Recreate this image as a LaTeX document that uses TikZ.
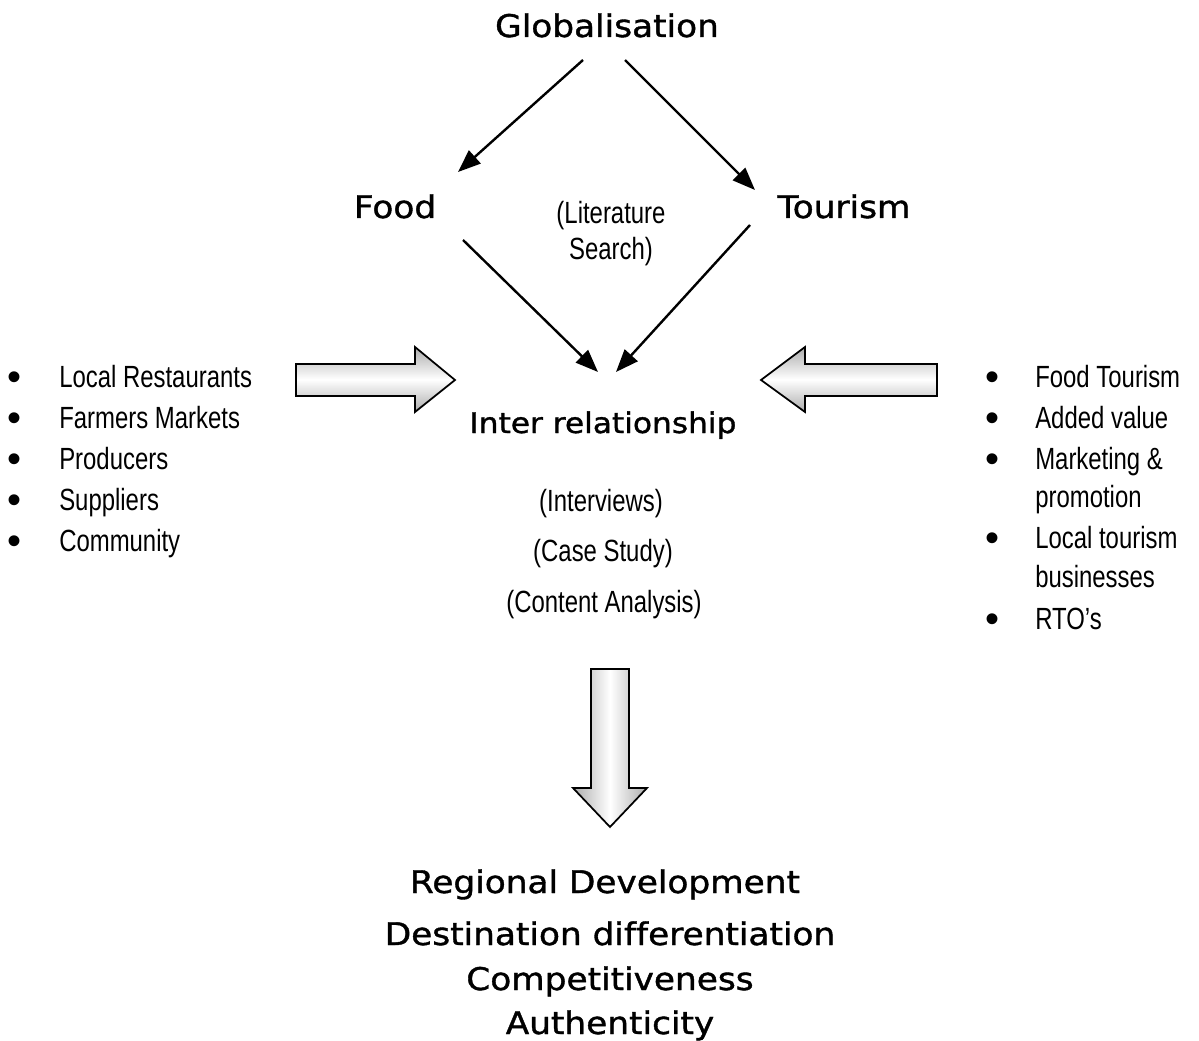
\documentclass[tikz,border=0pt]{standalone}
\usepackage{fontspec}
\usetikzlibrary{arrows.meta}
\newfontfamily\headfont[FakeStretch=1.1, FakeBold=1.2, Ligatures=NoCommon]{DejaVu Sans}
\newfontfamily\bodyfont[FakeStretch=0.78]{Liberation Sans}
\newfontfamily\bulletfont{Liberation Sans}

\tikzset{
  head/.style={inner sep=0, anchor=base, font=\headfont\fontsize{23.4pt}{28pt}\selectfont},
  subhead/.style={head, font=\headfont\fontsize{21.3pt}{26pt}\selectfont},
  body/.style={inner sep=0, anchor=base, font=\bodyfont\fontsize{23pt}{27pt}\selectfont},
  item/.style={body, anchor=base west},
  bul/.style={inner sep=0, anchor=base, font=\bulletfont\fontsize{30pt}{30pt}\selectfont},
  conn/.style={line width=1.8pt, -{Triangle[length=17pt, width=13pt]}},
  blockh/.style={draw=black, line width=1.3pt, line join=miter, top color=gray!65, bottom color=gray!65, middle color=white},
  blockv/.style={draw=black, line width=1.3pt, line join=miter, left color=gray!65, right color=gray!65, middle color=white}
}

\begin{document}
\begin{tikzpicture}[x=0.75pt, y=-0.75pt]
\useasboundingbox (0, 0) rectangle (1199, 1041);

\node[head] (glob) at (607, 37) {Globalisation};
\node[head] (food) at (395, 218) {Food};
\node[head] (tour) at (844, 218) {Tourism};
\node[body, anchor=center, align=center] (lit) at (611, 234) {(Literature\\Search)};
\node[subhead] (inter) at (603, 433) {Inter relationship};

\node[body] (intv) at (601, 511) {(Interviews)};
\node[body] (case) at (603, 561) {(Case Study)};
\node[body] (cont) at (604, 612) {(Content Analysis)};

\node[head] (regdev) at (605, 893) {Regional Development};
\node[head] (destdiff) at (610, 945) {Destination differentiation};
\node[head] (compet) at (610, 990) {Competitiveness};
\node[head] (authen) at (610, 1034) {Authenticity};

\node[bul] (lb1) at (15, 390) {•};
\node[bul] (lb2) at (15, 431) {•};
\node[bul] (lb3) at (15, 472) {•};
\node[bul] (lb4) at (15, 513) {•};
\node[bul] (lb5) at (15, 554) {•};
\node[item] (li1) at (59, 387) {Local Restaurants};
\node[item] (li2) at (59, 428) {Farmers Markets};
\node[item] (li3) at (59, 469) {Producers};
\node[item] (li4) at (59, 510) {Suppliers};
\node[item] (li5) at (59, 551) {Community};

\node[bul] (rb1) at (992, 390) {•};
\node[bul] (rb2) at (992, 431) {•};
\node[bul] (rb3) at (992, 472) {•};
\node[bul] (rb4) at (992, 551) {•};
\node[bul] (rb5) at (992, 632) {•};
\node[item] (ri1) at (1035, 387) {Food Tourism};
\node[item] (ri2) at (1035, 428) {Added value};
\node[item] (ri3) at (1035, 469) {Marketing \&};
\node[item] (ri3b) at (1035, 507) {promotion};
\node[item] (ri4) at (1035, 548) {Local tourism};
\node[item] (ri4b) at (1035, 587) {businesses};
\node[item] (ri5) at (1035, 629) {RTO’s};

\draw[conn] ([shift={(-24,23)}]glob.base) -- ([shift={(63,-46)}]food.base);
\draw[conn] ([shift={(18,23)}]glob.base) -- ([shift={(-89,-28)}]tour.base);
\draw[conn] ([shift={(68,22)}]food.base) -- ([shift={(-5,-61)}]inter.base);
\draw[conn] ([shift={(-94,7)}]tour.base) -- ([shift={(13,-61)}]inter.base);

\draw[blockh] (296, 364) -- (415, 364) -- (415, 347) -- (455, 380) -- (415, 412) -- (415, 396) -- (296, 396) -- cycle;
\draw[blockh] (937, 364) -- (805, 364) -- (805, 347) -- (761, 380) -- (805, 412) -- (805, 396) -- (937, 396) -- cycle;
\draw[blockv] (591, 669) -- (629, 669) -- (629, 788) -- (647, 788) -- (610, 827) -- (573, 788) -- (591, 788) -- cycle;

\end{tikzpicture}
\end{document}
